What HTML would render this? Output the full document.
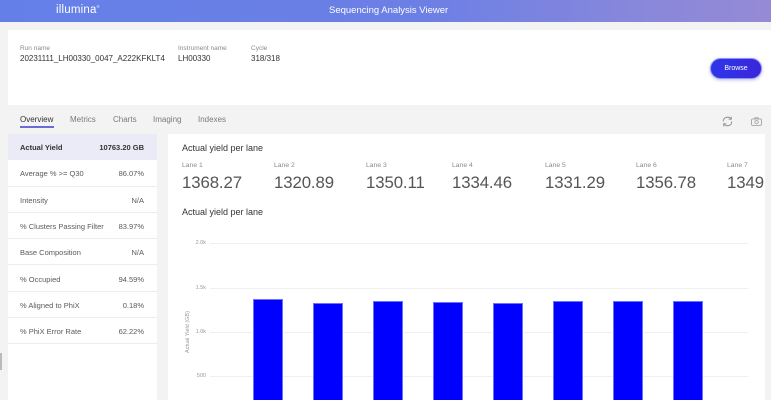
<!DOCTYPE html>
<html>
<head>
<meta charset="utf-8">
<style>
*{margin:0;padding:0;box-sizing:border-box}
html,body{width:771px;height:400px;overflow:hidden;background:#f3f3f4;font-family:"Liberation Sans",sans-serif}
.abs{position:absolute;white-space:nowrap}
#hdr{left:0;top:0;width:771px;height:22px;background:linear-gradient(90deg,#6480e8 0%,#6c7fe5 55%,#8a88da 85%,#958ad6 100%)}
#top{left:8px;top:30px;width:763px;height:75px;background:#fff}
.lbl{font-size:6.5px;color:#8a8a8a}
.val{font-size:8px;color:#333}
#browse{left:710px;top:58px;width:52px;height:21px;border-radius:11px;background:linear-gradient(90deg,#2e36e8,#3a26dc);border:1.5px solid #8d93f2;box-shadow:0 1px 3px rgba(60,60,200,.35);color:#fff;font-size:7px;display:flex;align-items:center;justify-content:center}
.tab{font-size:8px;color:#7a7a7a;top:115px}
#left{left:8px;top:134px;width:149px;height:266px;background:#fff}
.row{position:absolute;left:0;width:149px;height:26.3px;border-bottom:1px solid #ececec;font-size:7.5px;color:#5a5a5a}
.row .k{position:absolute;left:12px;top:9px}
.row .v{position:absolute;right:13px;top:9px}
#card{left:168px;top:134px;width:597px;height:266px;background:#fff;overflow:hidden}
.lane{font-size:6.8px;color:#8a8a8a;top:162px}
.num{font-size:16.8px;color:#555;top:173px;font-weight:300;letter-spacing:-0.1px}
.tick{font-size:5.5px;color:#999;text-align:right;width:30px;left:176px}
.grid{left:210px;width:538px;height:1px;background:#efeff2}
.bar{width:30px;background:#0000ff;border:1px solid #7070ff;border-bottom:none}
</style>
</head>
<body>
<div id="hdr" class="abs"></div>
<div class="abs" style="left:56px;top:3.5px;font-size:11.5px;color:#fff;letter-spacing:0.2px">illumina<span style="font-size:4px;vertical-align:top">&#174;</span></div>
<div class="abs" style="left:329px;top:5px;font-size:9.5px;color:#fff">Sequencing Analysis Viewer</div>

<div id="top" class="abs"></div>
<div class="abs lbl" style="left:20px;top:45px">Run name</div>
<div class="abs val" style="left:20px;top:54px">20231111_LH00330_0047_A222KFKLT4</div>
<div class="abs lbl" style="left:178px;top:45px">Instrument name</div>
<div class="abs val" style="left:178px;top:54px">LH00330</div>
<div class="abs lbl" style="left:251px;top:45px">Cycle</div>
<div class="abs val" style="left:251px;top:54px">318/318</div>
<div id="browse" class="abs">Browse</div>

<div class="abs tab" style="left:20px;color:#333">Overview</div>
<div class="abs" style="left:20px;top:126px;width:34px;height:1.5px;background:#6a6ad8"></div>
<div class="abs tab" style="left:70px">Metrics</div>
<div class="abs tab" style="left:113px">Charts</div>
<div class="abs tab" style="left:153px">Imaging</div>
<div class="abs tab" style="left:198px">Indexes</div>

<svg class="abs" style="left:721px;top:115px" width="13" height="13" viewBox="0 0 13 13">
<path d="M2.2 6.5 A4.3 4.3 0 0 1 10 4" fill="none" stroke="#8a8a8a" stroke-width="0.9"/>
<path d="M10.8 6.5 A4.3 4.3 0 0 1 3 9" fill="none" stroke="#8a8a8a" stroke-width="0.9"/>
<path d="M10.3 1.6 L10.2 4.3 L7.6 4.1" fill="none" stroke="#8a8a8a" stroke-width="0.9"/>
<path d="M2.7 11.4 L2.8 8.7 L5.4 8.9" fill="none" stroke="#8a8a8a" stroke-width="0.9"/>
</svg>
<svg class="abs" style="left:751px;top:117px" width="11" height="9" viewBox="0 0 11 9">
<rect x="0.6" y="2" width="9.8" height="6.4" rx="1" fill="none" stroke="#999" stroke-width="0.8"/>
<path d="M3.3 2 L4 0.8 L7 0.8 L7.7 2" fill="none" stroke="#999" stroke-width="0.8"/>
<circle cx="5.5" cy="5.2" r="1.7" fill="none" stroke="#999" stroke-width="0.8"/>
</svg>

<div id="left" class="abs">
  <div class="row" style="top:0;background:#ebebf8;color:#333;font-weight:bold;border-bottom:none"><span class="k" style="font-weight:600">Actual Yield</span><span class="v">10763.20 GB</span></div>
  <div class="row" style="top:26.3px"><span class="k">Average % &gt;= Q30</span><span class="v">86.07%</span></div>
  <div class="row" style="top:52.6px"><span class="k">Intensity</span><span class="v">N/A</span></div>
  <div class="row" style="top:78.9px"><span class="k">% Clusters Passing Filter</span><span class="v">83.97%</span></div>
  <div class="row" style="top:105.2px"><span class="k">Base Composition</span><span class="v">N/A</span></div>
  <div class="row" style="top:131.5px"><span class="k">% Occupied</span><span class="v">94.59%</span></div>
  <div class="row" style="top:157.8px"><span class="k">% Aligned to PhiX</span><span class="v">0.18%</span></div>
  <div class="row" style="top:184.1px"><span class="k">% PhiX Error Rate</span><span class="v">62.22%</span></div>
</div>
<div class="abs" style="left:0;top:353px;width:1.5px;height:17px;background:#bbb"></div>

<div id="card" class="abs"></div>
<div class="abs" style="left:182px;top:143px;font-size:9px;color:#333">Actual yield per lane</div>
<div class="abs lane" style="left:182px">Lane 1</div>
<div class="abs lane" style="left:274px">Lane 2</div>
<div class="abs lane" style="left:366px">Lane 3</div>
<div class="abs lane" style="left:452px">Lane 4</div>
<div class="abs lane" style="left:545px">Lane 5</div>
<div class="abs lane" style="left:636px">Lane 6</div>
<div class="abs lane" style="left:727px">Lane 7</div>
<div class="abs" style="left:168px;top:160px;width:597px;height:40px;overflow:hidden">
<div class="abs num" style="left:14px;top:13px">1368.27</div>
<div class="abs num" style="left:106px;top:13px">1320.89</div>
<div class="abs num" style="left:198px;top:13px">1350.11</div>
<div class="abs num" style="left:284px;top:13px">1334.46</div>
<div class="abs num" style="left:377px;top:13px">1331.29</div>
<div class="abs num" style="left:468px;top:13px">1356.78</div>
<div class="abs num" style="left:559px;top:13px">1349.83</div>
</div>
<div class="abs" style="left:182px;top:207px;font-size:9px;color:#333">Actual yield per lane</div>

<div class="abs grid" style="top:243px"></div>
<div class="abs grid" style="top:288px"></div>
<div class="abs grid" style="top:332px"></div>
<div class="abs grid" style="top:376px"></div>
<div class="abs tick" style="top:240px">2.0k</div>
<div class="abs tick" style="top:285px">1.5k</div>
<div class="abs tick" style="top:329px">1.0k</div>
<div class="abs tick" style="top:373px">500</div>
<div class="abs" style="left:188px;top:332px;font-size:5.5px;color:#999;transform:translate(-50%,-50%) rotate(-90deg)">Actual Yield (GB)</div>

<div class="abs bar" style="left:253px;top:299px;height:101px"></div>
<div class="abs bar" style="left:313px;top:303px;height:97px"></div>
<div class="abs bar" style="left:373px;top:301px;height:99px"></div>
<div class="abs bar" style="left:433px;top:302px;height:98px"></div>
<div class="abs bar" style="left:493px;top:303px;height:97px"></div>
<div class="abs bar" style="left:553px;top:301px;height:99px"></div>
<div class="abs bar" style="left:613px;top:301px;height:99px"></div>
<div class="abs bar" style="left:673px;top:301px;height:99px"></div>
</body>
</html>
